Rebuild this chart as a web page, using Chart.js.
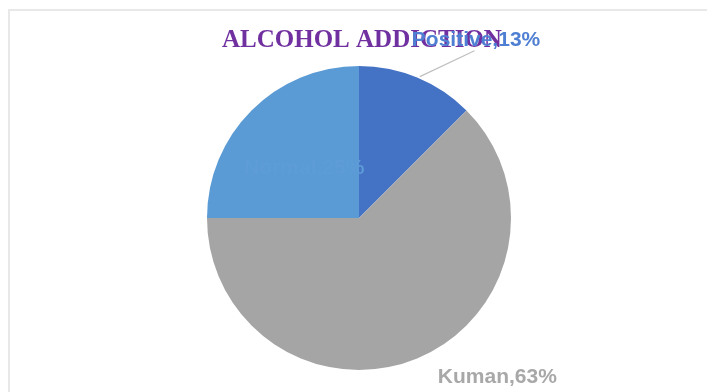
<!DOCTYPE html>
<html>
<head>
<meta charset="utf-8">
<script src="https://cdn.jsdelivr.net/npm/chart.js@4"></script>
<style>
  html, body { margin: 0; padding: 0; background: #fff; }
  #wrap { width: 707px; height: 392px; }
</style>
</head>
<body>
<div id="wrap"><canvas id="myChart" width="707" height="392"></canvas></div>
<script>
var categories = ['Positive', 'Kuman', 'Normal'];
var shares = [12.5, 62.5, 25];
var colors = ['#4472C4', '#A5A5A5', '#5B9BD5'];
var labelColors = ['#4F7FD3', '#A8A8A8', '#5D9CD6'];
var chartTitle = 'ALCOHOL ADDICTION';

// where each data label sits, in units of the pie radius from its centre
var labelSpots = [[0.77, -1.17], [0.91, 1.05], [-0.36, -0.33]];

var ctx = document.getElementById('myChart').getContext('2d');

var decor = {
  id: 'decor',
  beforeDraw: function(chart) {
    var c = chart.ctx;
    c.save();
    // light frame of the chart box
    c.strokeStyle = '#E8E8E8';
    c.lineWidth = 2;
    c.beginPath();
    c.moveTo(9, 400);
    c.lineTo(9, 10);
    c.lineTo(720, 10);
    c.stroke();
    c.restore();
  },
  afterDraw: function(chart) {
    var c = chart.ctx;
    var arcs = chart.getDatasetMeta(0).data;
    var cx = arcs[0].x, cy = arcs[0].y, r = arcs[0].outerRadius;
    c.save();
    // title
    c.font = 'bold 25px "Liberation Serif"';
    c.fillStyle = '#7030A0';
    c.textAlign = 'left';
    c.textBaseline = 'alphabetic';
    c.fillText(chartTitle, 222, 47);

    // leader line for the small slice
    c.strokeStyle = '#BFBFBF';
    c.lineWidth = 1.2;
    c.beginPath();
    c.moveTo(cx + r * 0.40, cy - r * 0.93);
    c.lineTo(cx + r * 0.76, cy - r * 1.10);
    c.stroke();

    c.font = 'bold 21px "Liberation Sans"';
    c.textAlign = 'center';
    c.textBaseline = 'middle';
    arcs.forEach(function(a, i) {
      var txt = categories[i] + ',' + Math.round(shares[i]) + '%';
      c.fillStyle = labelColors[i];
      c.fillText(txt, cx + r * labelSpots[i][0], cy + r * labelSpots[i][1]);
    });
    c.restore();
  }
};

var chart = new Chart(ctx, {
  type: 'pie',
  data: {
    labels: categories,
    datasets: [{
      data: shares,
      backgroundColor: colors,
      borderWidth: 0
    }]
  },
  options: {
    responsive: false,
    animation: false,
    layout: { padding: { top: 66, bottom: 22, left: 207, right: 196 } },
    plugins: {
      legend: { display: false },
      tooltip: { enabled: false },
      title: { display: false }
    }
  },
  plugins: [decor]
});
</script>
</body>
</html>
